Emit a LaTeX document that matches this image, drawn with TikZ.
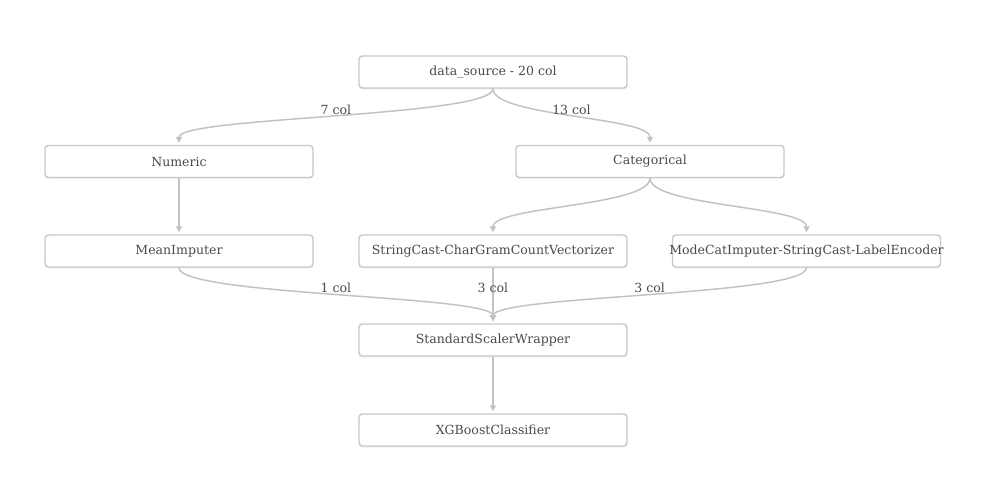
\documentclass[tikz,border=0pt]{standalone}
\usepackage{fontspec}
\setmainfont{DejaVu Serif}
\usetikzlibrary{arrows.meta, shadows}
\definecolor{boxline}{HTML}{C8C8C8}
\definecolor{linkline}{HTML}{C2C2C2}
\definecolor{textgray}{HTML}{4A4A4A}
\tikzset{
	step box/.style={draw=boxline, line width=1.1pt, rounded corners=2.5pt, fill=white,
		minimum width=201pt, minimum height=24pt, inner sep=0pt, text=textgray,
		font=\fontsize{9.4}{11}\selectfont,
		drop shadow={opacity=0.12, shadow xshift=0pt, shadow yshift=-1.2pt}},
	link/.style={draw=linkline, line width=1.1pt, -{Triangle[length=4.5pt, width=4.5pt]}, shorten >=1.5pt},
	col label/.style={midway, yshift=5.5pt, inner sep=0pt, text=textgray, font=\fontsize{9.4}{11}\selectfont}
}

\begin{document}
\begin{tikzpicture}[x=0.75pt, y=-0.75pt]
	\useasboundingbox (0, 0) rectangle (1007, 503);
	\node[step box] (DS)  at (493, 72)   {data\_source - 20 col};
	\node[step box] (NUM) at (179, 161.5) {Numeric};
	\node[step box] (CAT) at (650, 161.5) {Categorical};
	\node[step box] (MI)  at (179, 251)   {MeanImputer};
	\node[step box] (SC)  at (493, 251)   {StringCast-CharGramCountVectorizer};
	% text is wider than the box here, let it spill over
	\node[step box] (MC)  at (806.5, 251) {\makebox[190pt]{ModeCatImputer-StringCast-LabelEncoder}};
	\node[step box] (SS)  at (493, 340)   {StandardScalerWrapper};
	\node[step box] (XG)  at (493, 430)   {XGBoostClassifier};

	\draw[link] (DS.south) .. controls +(0, 28) and +(0, -28) .. (NUM.north) node[col label] (C7) {7 col};
	\draw[link] (DS.south) .. controls +(0, 28) and +(0, -28) .. (CAT.north) node[col label] (C13) {13 col};
	\draw[link] (NUM) -- (MI);
	\draw[link] (CAT.south) .. controls +(0, 28) and +(0, -28) .. (SC.north);
	\draw[link] (CAT.south) .. controls +(0, 28) and +(0, -28) .. (MC.north);
	\draw[link] (MI.south) .. controls +(0, 28) and +(0, -28) .. (SS.north) node[col label] (C1) {1 col};
	\draw[link] (SC) -- (SS) node[col label] (C3a) {3 col};
	\draw[link] (MC.south) .. controls +(0, 28) and +(0, -28) .. (SS.north) node[col label] (C3b) {3 col};
	\draw[link] (SS) -- (XG);
\end{tikzpicture}
\end{document}
